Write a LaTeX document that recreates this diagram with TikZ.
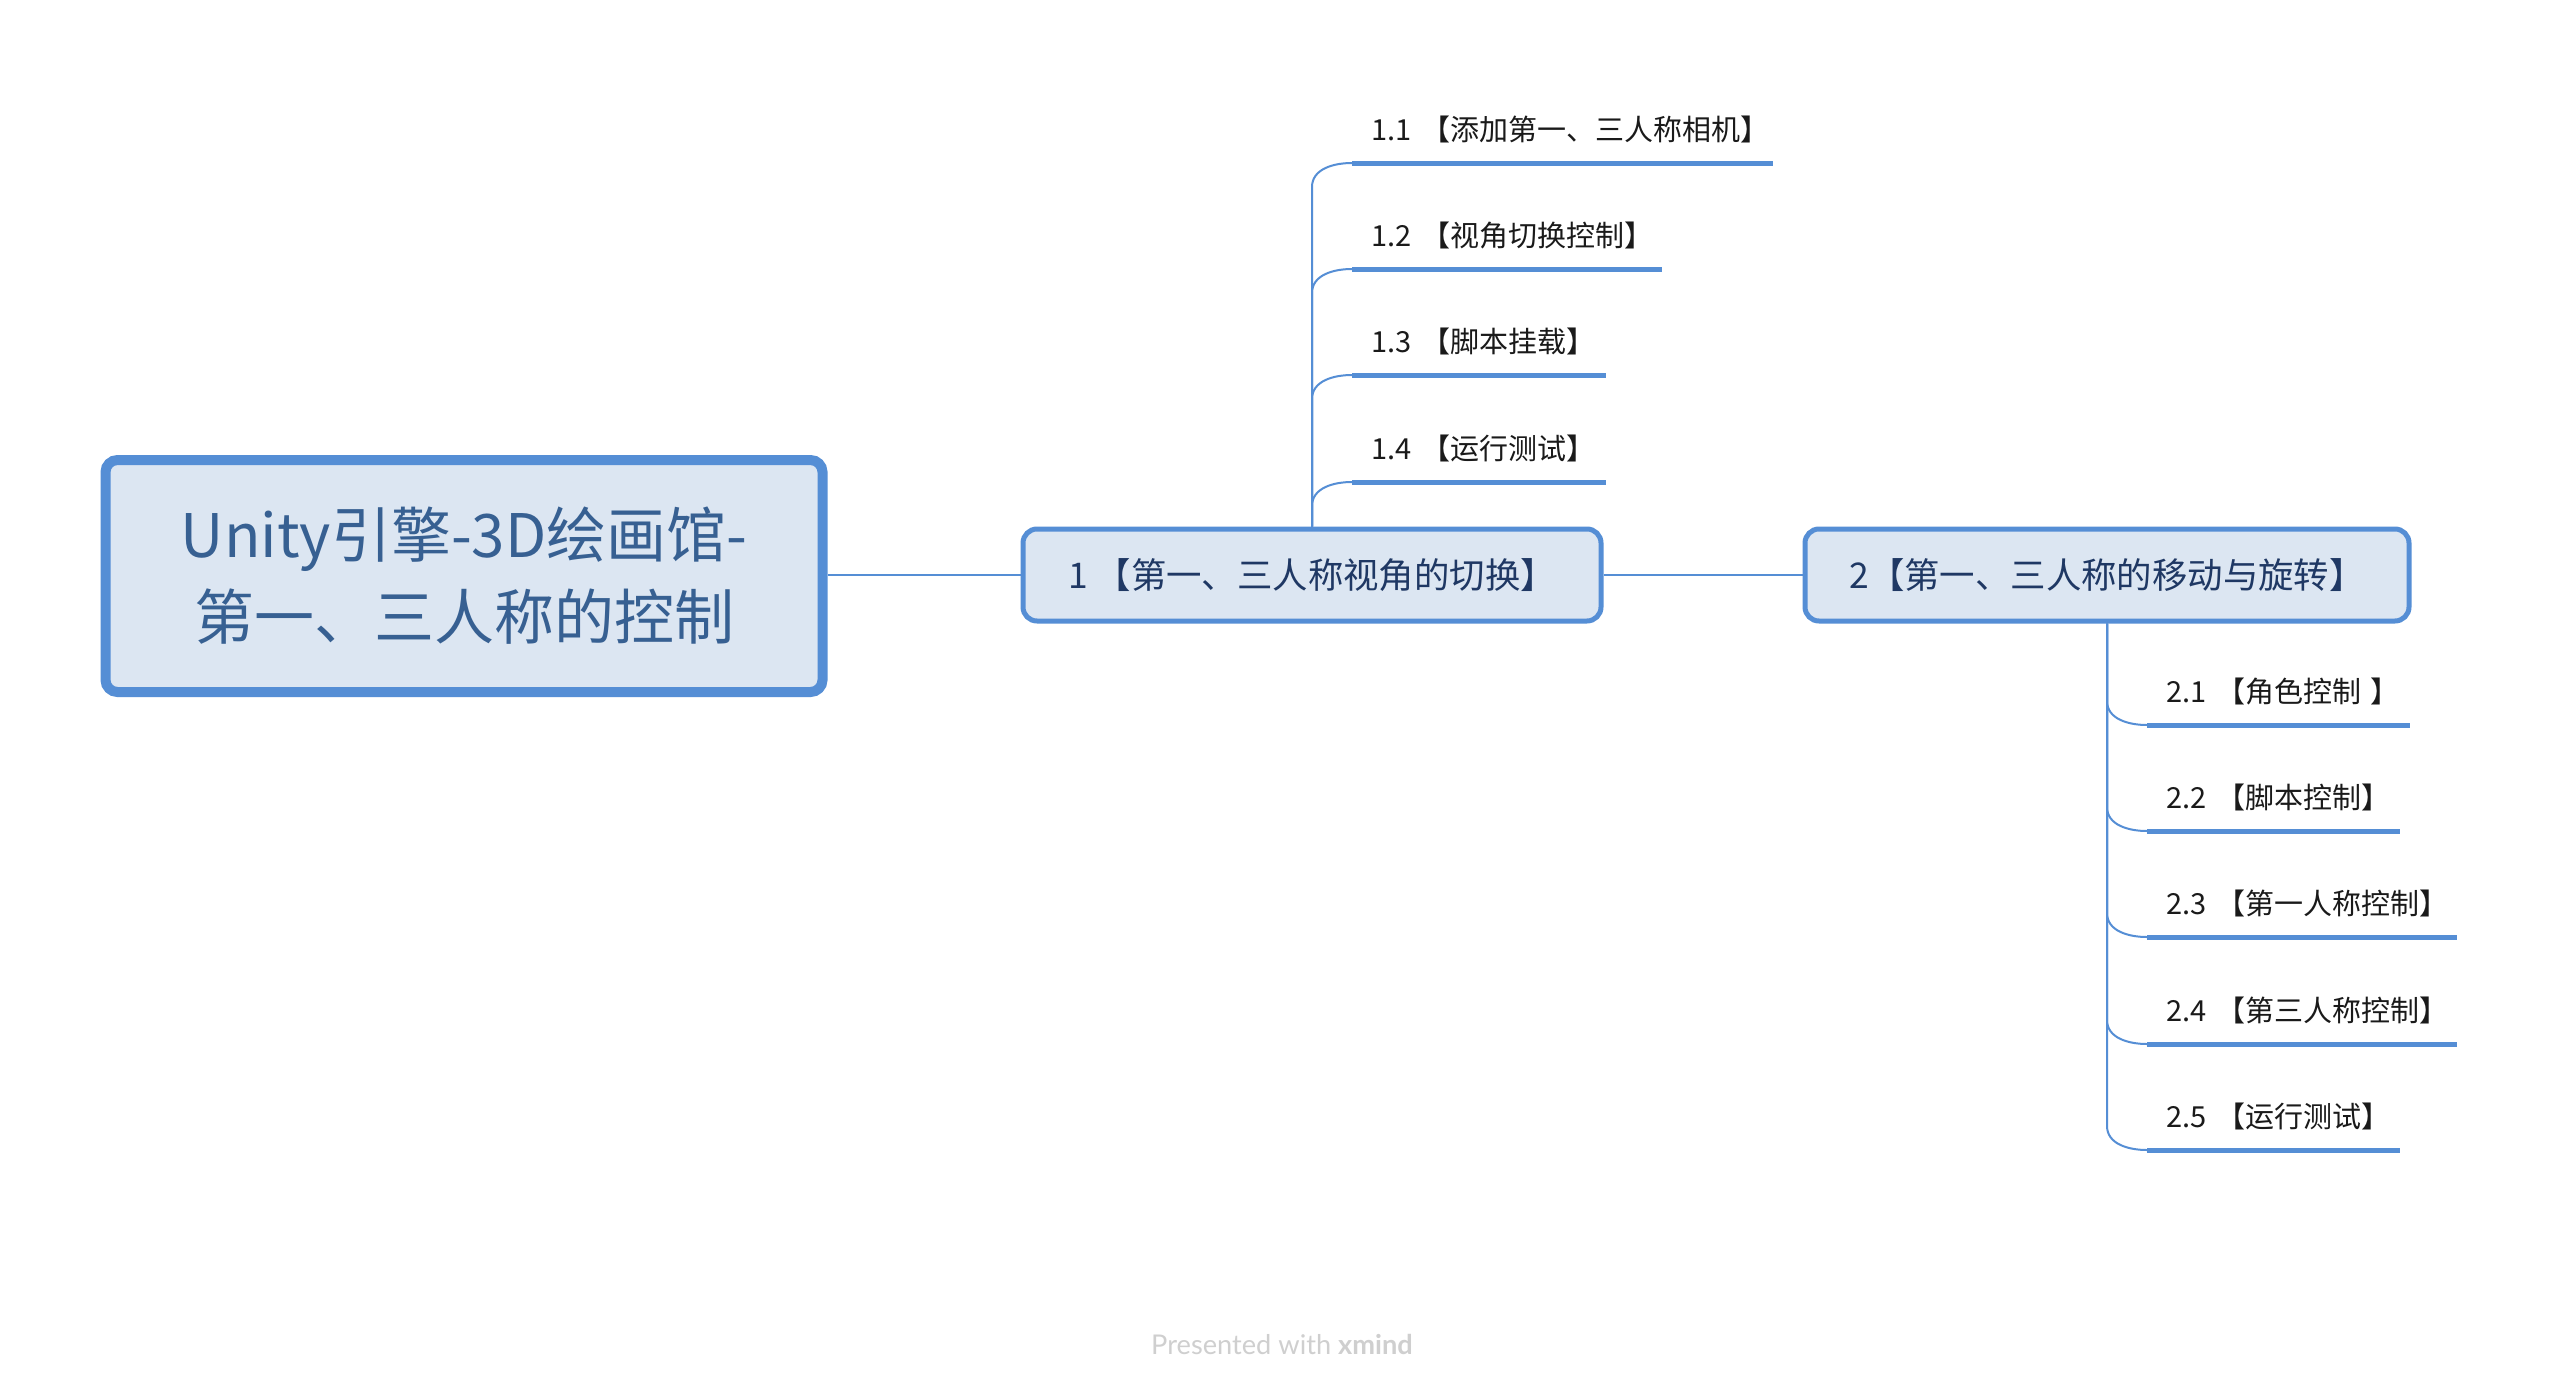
\documentclass[tikz,border=0pt]{standalone}
\usepackage{fontspec}
\setmainfont{Noto Sans CJK SC}
\newfontfamily\footfont{Lato}
\definecolor{xblue}{HTML}{558ED5}
\definecolor{xfill}{HTML}{DCE6F2}
\definecolor{roottext}{HTML}{376092}
\definecolor{maintext}{HTML}{1F3864}
\definecolor{subtext}{HTML}{1A1A1A}
\definecolor{foottext}{HTML}{CFCFCF}
\begin{document}
\begin{tikzpicture}[x=0.5pt,y=-0.5pt,
  rootbox/.style={draw=xblue, fill=xfill, line width=5pt, rounded corners=6pt,
    minimum width=358.5pt, minimum height=116pt, align=center, text=roottext,
    font=\fontsize{30}{41}\selectfont, inner sep=0pt},
  mainbox/.style={draw=xblue, fill=xfill, line width=2.5pt, rounded corners=7pt,
    minimum height=46pt, text=maintext, font=\fontsize{17.7}{20}\selectfont, inner sep=0pt},
  subitem/.style={anchor=south west, inner xsep=9.5pt, inner ysep=8pt, text depth=3pt,
    text height=11pt, text width=#1, align=left, text=subtext,
    font=\fontsize{14.5}{17}\selectfont},
  uline/.style={draw=xblue, line width=2.5pt},
  link/.style={draw=xblue, line width=1pt}]
\fill[white] (0,0) rectangle (2554,1392);
\useasboundingbox (0,0) rectangle (2554,1392);

\node[rootbox] (root) at (464,576) {Unity引擎-3D绘画馆-\\第一、三人称的控制};
\node[mainbox, minimum width=289pt] (n1) at (1312,575) {1 【第一、三人称视角的切换】};
\node[mainbox, minimum width=302pt] (n2) at (2107,575) {2【第一、三人称的移动与旋转】};

\draw[link] (root.east |- n1.west) -- (n1.west);
\draw[link] (n1.east) -- (n2.west);

\node[subitem=191pt] (c11) at (1352,163) {\mbox{1.1 【添加第一、三人称相机】}};
\node[subitem=135.5pt] (c12) at (1352,269) {\mbox{1.2 【视角切换控制】}};
\node[subitem=107.5pt] (c13) at (1352,375) {\mbox{1.3 【脚本挂载】}};
\node[subitem=107.5pt] (c14) at (1352,482) {\mbox{1.4 【运行测试】}};

\node[subitem=112pt] (c21) at (2147,725) {\mbox{2.1 【角色控制 】}};
\node[subitem=107pt] (c22) at (2147,831) {\mbox{2.2 【脚本控制】}};
\node[subitem=135.5pt] (c23) at (2147,937) {\mbox{2.3 【第一人称控制】}};
\node[subitem=135.5pt] (c24) at (2147,1044) {\mbox{2.4 【第三人称控制】}};
\node[subitem=107pt] (c25) at (2147,1150) {\mbox{2.5 【运行测试】}};

\foreach \c in {c11,c12,c13,c14}{
  \draw[link] (n1.north) -- ([yshift=-12pt]n1.north |- \c.south) to[out=90,in=180] (\c.south west);
  \draw[uline] (\c.south west) -- (\c.south east);
}
\foreach \c in {c21,c22,c23,c24,c25}{
  \draw[link] (n2.south) -- ([yshift=12pt]n2.south |- \c.south) to[out=-90,in=180] (\c.south west);
  \draw[uline] (\c.south west) -- (\c.south east);
}

\node[font=\footfont\fontsize{13.6}{15}\selectfont, text=foottext] (foot) at (1282,1344) {Presented with \textbf{xmind}};
\end{tikzpicture}
\end{document}
